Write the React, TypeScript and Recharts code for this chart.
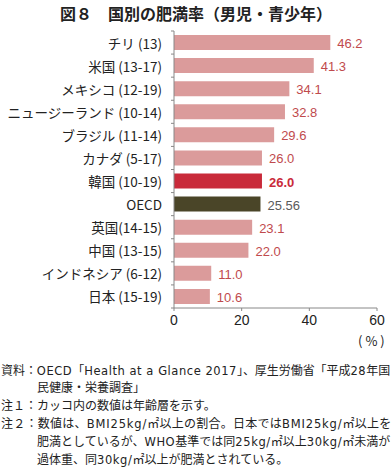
import React from "react";
import { BarChart, Bar, XAxis, YAxis, Cell, LabelList } from "recharts";

const categories = [
  "チリ (13)",
  "米国 (13-17)",
  "メキシコ (12-19)",
  "ニュージーランド (10-14)",
  "ブラジル (11-14)",
  "カナダ (5-17)",
  "韓国 (10-19)",
  "OECD",
  "英国(14-15)",
  "中国 (13-15)",
  "インドネシア (6-12)",
  "日本 (15-19)",
];
const values = [46.2, 41.3, 34.1, 32.8, 29.6, 26.0, 26.0, 25.56, 23.1, 22.0, 11.0, 10.6];
const valueLabels = ["46.2", "41.3", "34.1", "32.8", "29.6", "26.0", "26.0", "25.56", "23.1", "22.0", "11.0", "10.6"];
const xTicks = [0, 20, 40, 60];

const PINK = "#db9b9b";
const KOREA = "#c92a3a";
const OECD = "#4a4528";
const PINK_TEXT = "#bf4a4d";

const CHART_W = 392;
const CHART_H = 346;
const M_TOP = 31;
const M_BOTTOM = 8;
const X_AXIS_H = 30;
const PLOT_H = CHART_H - M_TOP - M_BOTTOM - X_AXIS_H;
const BAND = PLOT_H / categories.length;

const data = categories.map((c, i) => ({ name: c, value: values[i], label: valueLabels[i] }));

const barColor = (name: string) => (name === "OECD" ? OECD : name.startsWith("韓国") ? KOREA : PINK);
const labelColor = (name: string) => (name === "OECD" ? "#5a5a5a" : name.startsWith("韓国") ? KOREA : PINK_TEXT);

const FONT = "'Noto Sans CJK JP', 'Noto Sans', sans-serif";

const YTick = (props: any) => {
  const { x, y, payload, index } = props;
  const half = BAND / 2;
  return (
    <g>
      <line x1={x - 3} x2={x} y1={y - half} y2={y - half} stroke="#888" strokeWidth={1} />
      {index === categories.length - 1 && (
        <line x1={x - 3} x2={x} y1={y + half} y2={y + half} stroke="#888" strokeWidth={1} />
      )}
      <text x={x - 12} y={y} textAnchor="end" dominantBaseline="central" fontSize={13.5} fill="#222" fontFamily={FONT}>
        {payload.value}
      </text>
    </g>
  );
};

const ValueLabel = (props: any) => {
  const { x, y, width, height, index } = props;
  const d = data[index];
  const isKorea = d.name.startsWith("韓国");
  return (
    <text
      x={x + width + 7}
      y={y + height / 2 + 1}
      dominantBaseline="central"
      fontSize={13}
      fontWeight={isKorea ? 700 : 400}
      fill={labelColor(d.name)}
      fontFamily="'Liberation Sans', Arial, sans-serif"
    >
      {d.label}
    </text>
  );
};

const notes: { text: string; top: number; indent: boolean; ls: number }[] = [
  { text: "資料：OECD「Health at a Glance 2017」、厚生労働省「平成28年国", top: 370, indent: false, ls: -0.05 },
  { text: "民健康・栄養調査」", top: 387, indent: true, ls: 0 },
  { text: "注１：カッコ内の数値は年齢層を示す。", top: 405, indent: false, ls: 0 },
  { text: "注２：数値は、BMI25kg/㎡以上の割合。日本ではBMI25kg/㎡以上を", top: 423, indent: false, ls: 0.25 },
  { text: "肥満としているが、WHO基準では同25kg/㎡以上30kg/㎡未満が", top: 441, indent: true, ls: 0 },
  { text: "過体重、同30kg/㎡以上が肥満とされている。", top: 459, indent: true, ls: 0 },
];

const renderNote = (text: string, ls: number) => {
  const parts = text.split(/([A-Za-z0-9\/ .]+)/);
  return parts.map((p, i) =>
    /^[A-Za-z0-9\/ .]+$/.test(p) ? (
      <span key={i} style={{ fontFamily: "'DejaVu Sans', sans-serif", letterSpacing: 0.6 + ls, fontSize: 11.5 }}>
        {p}
      </span>
    ) : (
      <span key={i} style={{ letterSpacing: ls }}>{p}</span>
    )
  );
};

export default function App() {
  return (
    <div style={{ position: "absolute", left: 0, top: 0, width: 392, height: 467, background: "#fff", fontFamily: FONT }}>
      <div
        style={{
          position: "absolute",
          top: 2,
          left: 0,
          width: 392,
          textAlign: "center",
          fontSize: 16,
          fontWeight: 700,
          color: "#222",
          lineHeight: "22px",
        }}
      >
        図８　国別の肥満率（男児・青少年）
      </div>
      <div style={{ position: "absolute", top: 0, left: 0 }}>
        <BarChart
          width={CHART_W}
          height={CHART_H}
          data={data}
          layout="vertical"
          margin={{ top: M_TOP, right: 15, bottom: M_BOTTOM, left: 0 }}
        >
          <XAxis
            type="number"
            domain={[0, 60]}
            ticks={xTicks}
            height={X_AXIS_H}
            axisLine={{ stroke: "#888" }}
            tickLine={{ stroke: "#888" }}
            tickSize={3}
            tick={{ fontSize: 14, fill: "#222", fontFamily: "'Liberation Sans', Arial, sans-serif" }}
            tickMargin={4}
            interval={0}
          />
          <YAxis
            type="category"
            dataKey="name"
            width={174}
            axisLine={{ stroke: "#888" }}
            tickLine={false}
            tickSize={0}
            tickMargin={0}
            tick={<YTick />}
            interval={0}
          />
          <Bar dataKey="value" barSize={15} isAnimationActive={false}>
            {data.map((d, i) => (
              <Cell key={i} fill={barColor(d.name)} />
            ))}
            <LabelList dataKey="value" content={<ValueLabel />} />
          </Bar>
        </BarChart>
      </div>
      <div style={{ position: "absolute", top: 332, left: 358, fontSize: 13, color: "#222", lineHeight: "18px", letterSpacing: 3 }}>(%)</div>
      {notes.map((n, i) => (
        <div
          key={i}
          style={{
            position: "absolute",
            top: n.top - 9,
            left: n.indent ? 37 : 1,
            fontSize: 12,
            lineHeight: "18px",
            color: "#222",
            whiteSpace: "nowrap",
          }}
        >
          {renderNote(n.text, n.ls)}
        </div>
      ))}
    </div>
  );
}
